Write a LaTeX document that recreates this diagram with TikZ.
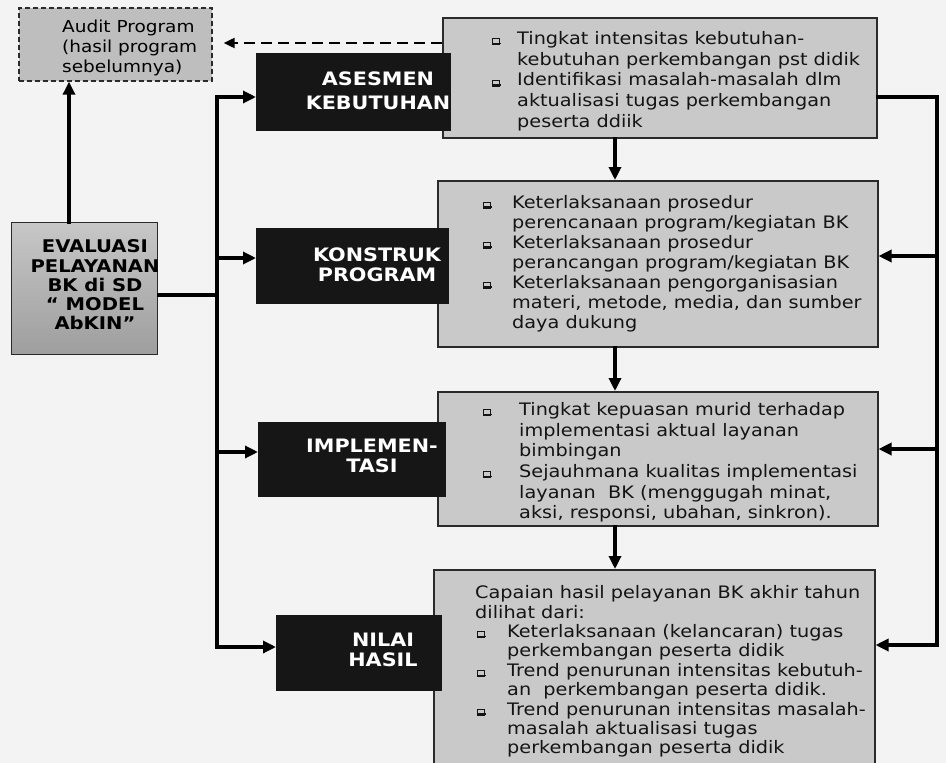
\documentclass[tikz,border=0pt]{standalone}
\usepackage{fontspec}
\setmainfont{DejaVu Sans}[FakeStretch=1.12]
\usetikzlibrary{arrows.meta}
\definecolor{bg}{HTML}{F3F3F3}
\definecolor{boxgray}{HTML}{C9C9C9}
\definecolor{auditgray}{HTML}{BEBEBE}
\definecolor{dark}{HTML}{161616}
\definecolor{edge}{HTML}{2A2A2A}
\newcommand\qsq{\raisebox{0.3pt}{\rlap{\kern1pt\rule{7.6pt}{1.5pt}}\setlength\fboxsep{0pt}\setlength\fboxrule{0.75pt}\fbox{\rule{0pt}{5.2pt}\hspace{6.4pt}}}}
\begin{document}
\begin{tikzpicture}[x=1pt,y=-1pt,
  graybox/.style={draw=edge,line width=1.5pt,fill=boxgray,inner sep=0pt,anchor=north west},
  blackbox/.style={fill=dark,draw=dark,line width=0.5pt,inner sep=0pt,anchor=north west},
  btext/.style={text=white,font=\fontsize{18.5}{20}\selectfont\bfseries,align=center,inner sep=0pt},
  body/.style={font=\fontsize{17.2}{20.3}\selectfont,align=left,inner sep=0pt,anchor=north west,text=black!92},
  conn/.style={line width=3.2pt,draw=black,line cap=rect},
  arr/.style={conn,-{Triangle[length=13pt,width=12pt]}},
]
\useasboundingbox (0,0) rectangle (946,763);
\clip (0,0) rectangle (946,763);
\fill[bg] (0,0) rectangle (946,763);

% reference coordinates
\coordinate (vx) at (615,0);
\coordinate (rx) at (937,0);
\coordinate (bx) at (217,0);

% boxes (shapes)
\node[graybox,minimum width=434pt,minimum height=120pt] (b1) at (442,17) {};
\node[graybox,minimum width=440pt,minimum height=166pt] (b2) at (437,180) {};
\node[graybox,minimum width=440pt,minimum height=134pt] (b3) at (437,391) {};
\node[graybox,minimum width=441pt,minimum height=210pt] (b4) at (433,569) {};

\node[draw=edge,line width=1.4pt,top color=black!22,bottom color=black!38,inner sep=0pt,anchor=north west,minimum width=146pt,minimum height=132pt] (eval) at (11,222) {};
\node[draw=edge,line width=1.7pt,dash pattern=on 5pt off 3pt,fill=auditgray,inner sep=0pt,anchor=north west,minimum width=193pt,minimum height=73pt] (audit) at (18,7) {};

% black boxes (drawn over the gray boxes' left edges)
\node[blackbox,minimum width=194pt,minimum height=77pt] (asesmen) at (256,53) {};
\node[blackbox,minimum width=192pt,minimum height=75pt] (konstruk) at (256,228) {};
\node[blackbox,minimum width=187pt,minimum height=74pt] (implemen) at (258,422) {};
\node[blackbox,minimum width=165pt,minimum height=75pt] (nilai) at (276,615) {};

% connectors: left bus
\draw[arr] (eval.north -| 69,0) -- (audit.south -| 69,0);
\draw[conn] (eval.east |- 0,295) -- (bx |- 0,295);
\draw[arr] (bx |- 0,647) -- (bx |- 0,97) -- (asesmen.west |- 0,97);
\draw[arr] (bx |- 0,258) -- (konstruk.west |- 0,258);
\draw[arr] (bx |- 0,452) -- (implemen.west |- 0,452);
\draw[arr] (bx |- 0,647) -- (nilai.west |- 0,647);

% dashed feedback
\draw[line width=2.2pt,dash pattern=on 11pt off 6pt,-{Triangle[length=11pt,width=10pt]},shorten >=11pt] (b1.west |- 0,43) -- (audit.east |- 0,43);

% vertical flow
\draw[arr] (b1.south -| vx) -- (b2.north -| vx);
\draw[arr] (b2.south -| vx) -- (b3.north -| vx);
\draw[arr] (b3.south -| vx) -- (b4.north -| vx);

% right feedback
\draw[conn] (b1.east |- 0,97) -- (rx |- 0,97) -- (rx |- 0,645);
\draw[arr] (rx |- 0,256) -- (b2.east |- 0,256);
\draw[arr] (rx |- 0,449) -- (b3.east |- 0,449);
\draw[arr] (rx |- 0,645) -- (b4.east |- 0,645);

% texts
\node[font=\fontsize{16.5}{20}\selectfont,align=left,inner sep=0pt,anchor=north west] (audt) at (62,18)
 {\strut Audit Program\\(hasil program\\sebelumnya)};

\node[btext,font=\fontsize{18.5}{24.5}\selectfont\bfseries] (asesment) at (378,91) {ASESMEN\\KEBUTUHAN};
\node[btext] (konstrukt) at (377,264.5) {KONSTRUK\\PROGRAM};
\node[btext] (implement) at (372,456) {IMPLEMEN-\\TASI};
\node[btext] (nilait) at (383,650) {NILAI\\HASIL};

\node[font=\fontsize{17.5}{19.3}\selectfont\bfseries,align=center,inner sep=0pt,text=black] (evalt) at (95,285)
 {EVALUASI\\PELAYANAN\\BK di SD\\“ MODEL\\AbKIN”};

\node[body,font=\fontsize{17.2}{20.6}\selectfont] (b1t) at (492,30)
 {\strut\makebox[25pt][l]{\qsq}Tingkat intensitas kebutuhan-\\
  \hspace*{25pt}kebutuhan perkembangan pst didik\\
  \makebox[25pt][l]{\qsq}Identifikasi masalah-masalah dlm\\
  \hspace*{25pt}aktualisasi tugas perkembangan\\
  \hspace*{25pt}peserta ddiik};

\node[body,font=\fontsize{17.2}{20}\selectfont] (b2t) at (483,194)
 {\strut\makebox[29pt][l]{\qsq}Keterlaksanaan prosedur\\
  \hspace*{29pt}perencanaan program/kegiatan BK\\
  \makebox[29pt][l]{\qsq}Keterlaksanaan prosedur\\
  \hspace*{29pt}perancangan program/kegiatan BK\\
  \makebox[29pt][l]{\qsq}Keterlaksanaan pengorganisasian\\
  \hspace*{29pt}materi, metode, media, dan sumber\\
  \hspace*{29pt}daya dukung};

\node[body,font=\fontsize{17.2}{20.6}\selectfont] (b3t) at (483,401)
 {\strut\makebox[36pt][l]{\qsq}Tingkat kepuasan murid terhadap\\
  \hspace*{36pt}implementasi aktual layanan\\
  \hspace*{36pt}bimbingan\\
  \makebox[36pt][l]{\qsq}Sejauhmana kualitas implementasi\\
  \hspace*{36pt}layanan\ \ BK (menggugah minat,\\
  \hspace*{36pt}aksi, responsi, ubahan, sinkron).};

\node[body,font=\fontsize{17.2}{19.4}\selectfont] (b4t) at (475,585)
 {\strut Capaian hasil pelayanan BK akhir tahun\\
  dilihat dari:\\
  \hspace*{2pt}\makebox[30pt][l]{\qsq}Keterlaksanaan (kelancaran) tugas\\
  \hspace*{32pt}perkembangan peserta didik\\
  \hspace*{2pt}\makebox[30pt][l]{\qsq}Trend penurunan intensitas kebutuh-\\
  \hspace*{32pt}an\ \ perkembangan peserta didik.\\
  \hspace*{2pt}\makebox[30pt][l]{\qsq}Trend penurunan intensitas masalah-\\
  \hspace*{32pt}masalah aktualisasi tugas\\
  \hspace*{32pt}perkembangan peserta didik};
\end{tikzpicture}
\end{document}
